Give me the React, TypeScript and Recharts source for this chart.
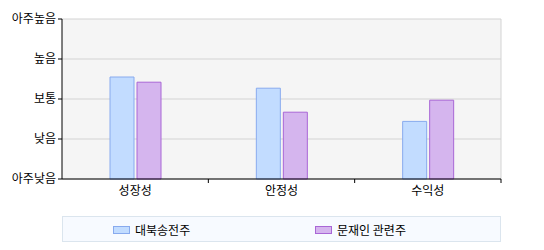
import React from "react";
import { BarChart, Bar, XAxis, YAxis, CartesianGrid } from "recharts";

const categories = ["성장성", "안정성", "수익성"];
const seriesA = [2.55, 2.27, 1.44]; // 대북송전주
const seriesB = [2.42, 1.67, 1.97]; // 문재인 관련주
const levelLabels = ["아주낮음", "낮음", "보통", "높음", "아주높음"];
const seriesNames = ["대북송전주", "문재인 관련주"];

const data = categories.map((c, i) => ({ name: c, a: seriesA[i], b: seriesB[i] }));

const font = "'Noto Sans CJK KR', 'Noto Sans', sans-serif";

// category label + a small tick mark at the right edge of each band
function CategoryTick(props: any) {
  const { x, y, payload } = props;
  const half = payload?.offset ?? 73;
  return (
    <g>
      <line x1={x + half} x2={x + half} y1={y - 6} y2={y - 2} stroke="#000" />
      <text x={x} y={y + 10} textAnchor="middle" fontSize={12} fill="#000" fontFamily={font}>
        {payload.value}
      </text>
    </g>
  );
}

export default function App() {
  return (
    <div style={{ position: "absolute", left: 0, top: 0, width: 544, height: 250, background: "#fff", fontFamily: font }}>
      <BarChart
        width={544}
        height={250}
        data={data}
        margin={{ top: 19, right: 43, bottom: 41, left: 0 }}
        barSize={24}
        barGap={3}
      >
        <CartesianGrid
          stroke="#d3d3d3"
          fill="#f5f5f5"
          verticalCoordinatesGenerator={({ offset }: any) => [offset.left + offset.width]}
        />
        <XAxis
          dataKey="name"
          height={30}
          tickLine={false}
          tickSize={4}
          tickMargin={2}
          axisLine={{ stroke: "#000" }}
          tick={<CategoryTick />}
        />
        <YAxis
          width={62}
          domain={[0, 4]}
          ticks={[0, 1, 2, 3, 4]}
          tickFormatter={(v: number) => levelLabels[v]}
          tickSize={4}
          axisLine={{ stroke: "#000" }}
          tickLine={{ stroke: "#000" }}
          tick={{ fill: "#000", fontSize: 12, fontFamily: font }}
        />
        <Bar dataKey="a" fill="#c2dcff" stroke="#88aaee" isAnimationActive={false} />
        <Bar dataKey="b" fill="#d5b5ee" stroke="#a966d6" isAnimationActive={false} />
      </BarChart>
      <div
        style={{
          position: "absolute",
          left: 62,
          top: 216,
          width: 437,
          height: 24,
          background: "#f7faff",
          border: "1px solid #dbe5ee",
          fontSize: 12,
          color: "#000",
        }}
      >
        {seriesNames.map((n, i) => (
          <div
            key={n}
            style={{ position: "absolute", left: i === 0 ? 50 : 252, top: 4, display: "flex", alignItems: "center", whiteSpace: "nowrap" }}
          >
            <span
              style={{
                display: "inline-block",
                width: 15,
                height: 6,
                background: i === 0 ? "#c2dcff" : "#d5b5ee",
                border: `1px solid ${i === 0 ? "#88aaee" : "#a966d6"}`,
                marginRight: 5,
              }}
            />
            <span>{n}</span>
          </div>
        ))}
      </div>
    </div>
  );
}
